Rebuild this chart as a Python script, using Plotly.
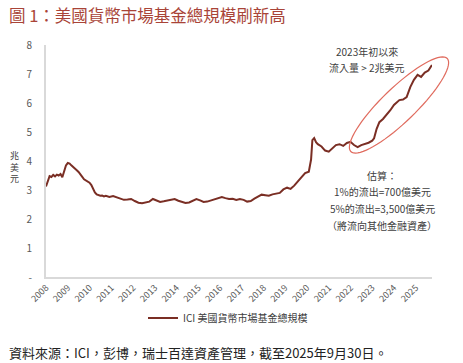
import math
import plotly.graph_objects as go

# ---- data (trillions USD) ----
dates = [
    "2008-01-01", "2008-02-01", "2008-03-01", "2008-04-01", "2008-05-01", "2008-06-01",
    "2008-07-01", "2008-08-01", "2008-09-01", "2008-10-01", "2008-11-01", "2008-12-01",
    "2009-01-01", "2009-02-01", "2009-03-01", "2009-04-01", "2009-05-01", "2009-06-01",
    "2009-07-01", "2009-08-01", "2009-09-01", "2009-10-01", "2009-11-01", "2009-12-01",
    "2010-01-01", "2010-02-01", "2010-03-01", "2010-04-01", "2010-05-01", "2010-06-01",
    "2010-07-01", "2010-08-01", "2010-09-01", "2010-10-01", "2010-12-01",
    "2011-02-01", "2011-04-01", "2011-06-01", "2011-08-01", "2011-10-01", "2011-12-01",
    "2012-02-01", "2012-04-01", "2012-06-01", "2012-08-01", "2012-10-01", "2012-12-01",
    "2013-02-01", "2013-04-01", "2013-06-01", "2013-08-01", "2013-10-01", "2013-12-01",
    "2014-02-01", "2014-04-01", "2014-06-01", "2014-08-01", "2014-10-01", "2014-12-01",
    "2015-02-01", "2015-04-01", "2015-06-01", "2015-08-01", "2015-10-01", "2015-12-01",
    "2016-02-01", "2016-04-01", "2016-06-01", "2016-08-01", "2016-10-01", "2016-12-01",
    "2017-02-01", "2017-04-01", "2017-06-01", "2017-08-01", "2017-10-01", "2017-12-01",
    "2018-02-01", "2018-04-01", "2018-06-01", "2018-08-01", "2018-10-01", "2018-12-01",
    "2019-02-01", "2019-04-01", "2019-06-01", "2019-08-01", "2019-10-01", "2019-12-01",
    "2020-02-01", "2020-03-10", "2020-04-01", "2020-05-01", "2020-06-01", "2020-07-01",
    "2020-09-01", "2020-11-01",
    "2021-01-01", "2021-03-01", "2021-05-01", "2021-07-01", "2021-09-01", "2021-11-01",
    "2022-01-01", "2022-03-01", "2022-05-01", "2022-07-01", "2022-09-01", "2022-11-01",
    "2023-01-01", "2023-02-01", "2023-03-15", "2023-05-01", "2023-07-01", "2023-09-01",
    "2023-11-01",
    "2024-01-01", "2024-03-01", "2024-04-01", "2024-06-01", "2024-08-01", "2024-10-01",
    "2024-12-01",
    "2025-02-01", "2025-04-01", "2025-06-01", "2025-08-01", "2025-09-30",
]
assets = [
    3.12, 3.35, 3.48, 3.45, 3.52, 3.47,
    3.53, 3.50, 3.55, 3.44, 3.70, 3.85,
    3.93, 3.91, 3.85, 3.80, 3.76, 3.68,
    3.62, 3.55, 3.45, 3.37, 3.33, 3.30,
    3.25, 3.17, 3.05, 2.92, 2.85, 2.82,
    2.80, 2.81, 2.78, 2.80, 2.76,
    2.79, 2.74, 2.70, 2.66, 2.67, 2.69,
    2.62, 2.56, 2.54, 2.56, 2.60, 2.69,
    2.63, 2.59, 2.61, 2.64, 2.65, 2.69,
    2.63, 2.58, 2.55, 2.57, 2.62, 2.69,
    2.64, 2.59, 2.60, 2.64, 2.68, 2.72,
    2.76, 2.72, 2.69, 2.70, 2.66, 2.69,
    2.66, 2.60, 2.62, 2.70, 2.78, 2.84,
    2.82, 2.80, 2.85, 2.88, 2.90, 3.02,
    3.08, 3.04, 3.15, 3.30, 3.45, 3.58,
    3.63, 4.05, 4.72, 4.79, 4.65, 4.58,
    4.50, 4.36,
    4.32, 4.45, 4.55, 4.58, 4.52, 4.62,
    4.66, 4.55, 4.48, 4.55, 4.59, 4.63,
    4.70, 4.78, 5.10, 5.34, 5.45, 5.59,
    5.75,
    5.93, 6.05, 6.10, 6.12, 6.20, 6.55,
    6.80,
    6.97, 6.90, 7.05, 7.12, 7.31,
]
year_ticks = [f"{y}-01-01" for y in range(2008, 2026)]
year_labels = [str(y) for y in range(2008, 2026)]
y_ticks = [0, 1, 2, 3, 4, 5, 6, 7, 8]
y_labels = ["-", "1", "2", "3", "4", "5", "6", "7", "8"]

series_name = "ICI 美國貨幣市場基金總規模"
title_text = "圖 1：美國貨幣市場基金總規模刷新高"
source_text = "資料來源：ICI，彭博，瑞士百達資產管理，截至2025年9月30日。"
y_title_text = "兆<br>美<br>元"
note1_lines = ["2023年初以來", "流入量 > 2兆美元"]
note2_lines = ["估算：", "1%的流出=700億美元", "5%的流出=3,500億美元", "（將流向其他金融資產）"]

# ---- layout geometry ----
W, H = 463, 363
L, R, T, B = 46, 31, 45, 86
PW, PH = W - L - R, H - T - B


def px(x):
    return (x - L) / PW


def py(y):
    return (H - B - y) / PH


FONT = "Noto Sans CJK TC, Noto Sans, sans-serif"
LINE_COLOR = "#7A2E24"
TEXT_COLOR = "#404040"

fig = go.Figure()
fig.add_trace(go.Scatter(
    x=dates, y=assets, mode="lines", name=series_name,
    line=dict(color=LINE_COLOR, width=2),
))

# rotated ellipse (pixel geometry -> paper coords)
cx, cy, a, b, ang = 399, 105, 67, 17, math.radians(44)
pts = []
for i in range(0, 73):
    t = 2 * math.pi * i / 72
    ex = a * math.cos(t)
    ey = b * math.sin(t)
    X = cx + ex * math.cos(ang) + ey * math.sin(ang)
    Y = cy - ex * math.sin(ang) + ey * math.cos(ang)
    pts.append((px(X), py(Y)))
path = "M " + " L ".join(f"{u:.4f},{v:.4f}" for u, v in pts) + " Z"


def txt(text, x, y, size=10, color=TEXT_COLOR, xanchor="center"):
    return dict(text=text, xref="paper", yref="paper", x=px(x), y=py(y),
                xanchor=xanchor, yanchor="middle", showarrow=False,
                font=dict(size=size, color=color, family=FONT))


annotations = [
    txt(title_text, 7, 15, size=16.5, color="#A94438", xanchor="left"),
    txt(source_text, 7, 352, size=13, color="#222222", xanchor="left"),
    txt(y_title_text, 14, 167, size=9),
]
for i, line in enumerate(note1_lines):
    annotations.append(txt(line, 367, 51 + 16 * i, size=10))
for i, line in enumerate(note2_lines):
    annotations.append(txt(line, 382, 175 + 16.8 * i, size=10))

fig.update_layout(
    width=W, height=H,
    margin=dict(l=L, r=R, t=T, b=B),
    paper_bgcolor="white", plot_bgcolor="white",
    font=dict(family=FONT, color="#595959", size=10),
    showlegend=True,
    legend=dict(
        orientation="h", x=px(143), xanchor="left", y=py(318), yanchor="middle",
        font=dict(size=10, color=TEXT_COLOR), bgcolor="rgba(0,0,0,0)",
    ),
    xaxis=dict(
        type="date", range=["2008-01-01", "2025-10-01"],
        tickvals=year_ticks, ticktext=year_labels, tickangle=-45,
        tickfont=dict(size=9, color="#595959"),
        showgrid=False, zeroline=False,
        showline=True, linecolor="#D9D9D9", linewidth=2,
        ticks="",
    ),
    yaxis=dict(
        range=[0, 8], tickvals=y_ticks, ticktext=y_labels,
        tickfont=dict(size=10, color="#595959"),
        showgrid=False, zeroline=False,
        showline=True, linecolor="#D9D9D9", linewidth=2,
        ticks="", ticklabelstandoff=10,
    ),
    shapes=[dict(
        type="path", xref="paper", yref="paper", path=path,
        line=dict(color="#E06B5E", width=1.2), fillcolor="rgba(0,0,0,0)",
        layer="above",
    )],
    annotations=annotations,
)

fig.write_html("out.html", config={"displayModeBar": False},
               post_script="document.body.style.margin='0';")
